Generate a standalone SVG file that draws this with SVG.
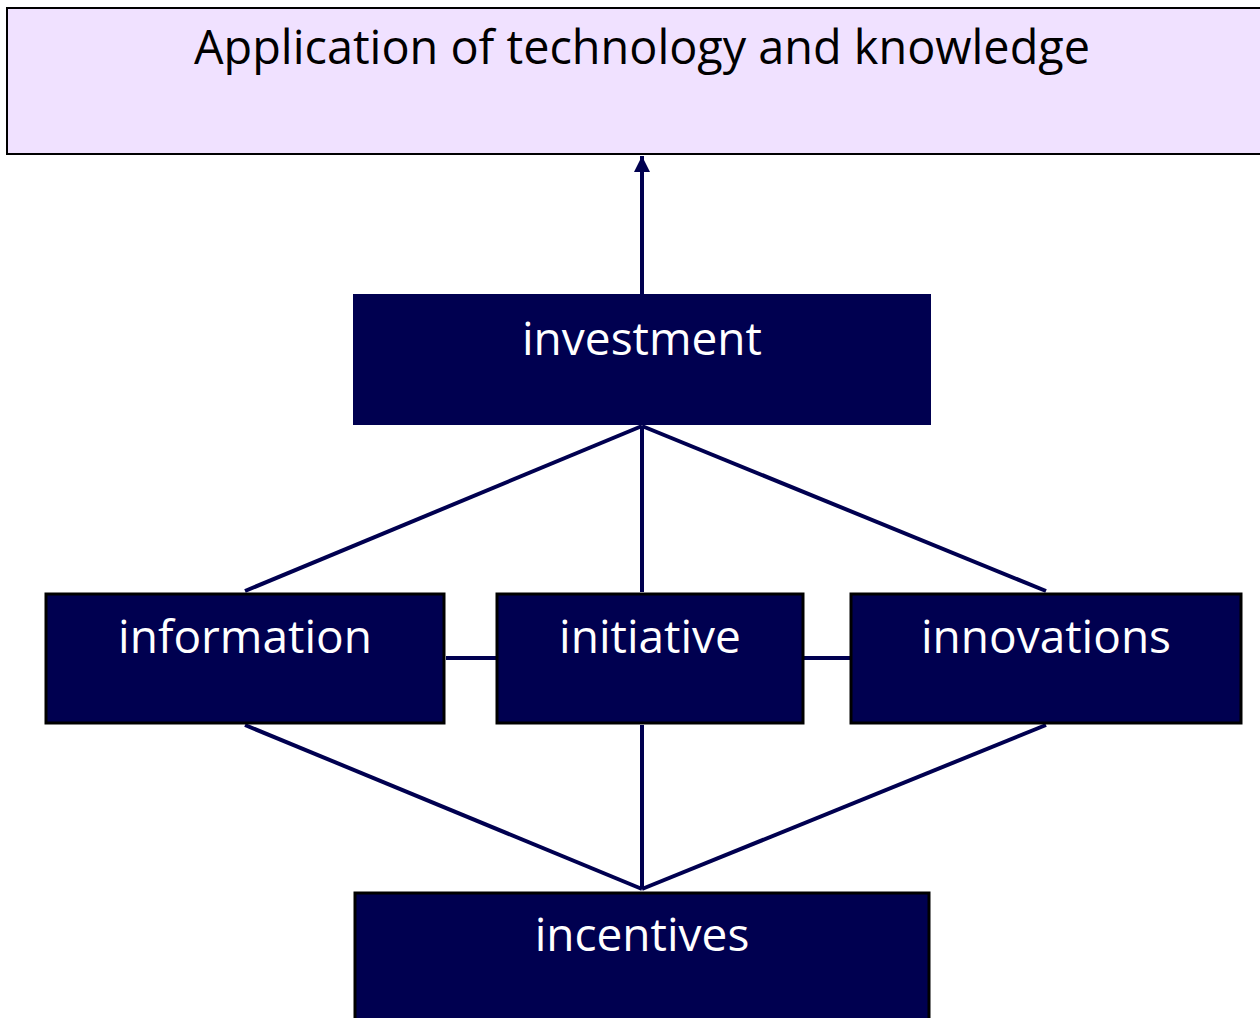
<svg xmlns="http://www.w3.org/2000/svg" width="1260" height="1018" viewBox="0 0 1260 1018">
<style>
.lbl{font-family:"Open Sans","Noto Sans",sans-serif;font-size:46px;text-anchor:middle;fill:#fff}
.head{font-family:"Open Sans","Noto Sans",sans-serif;font-size:46.8px;text-anchor:middle;fill:#000}
.box{fill:#000050;stroke:#000;stroke-width:3}
.conn{stroke:#000050;stroke-width:4;fill:none}
</style>
<defs>
<marker id="arr" viewBox="0 0 10 10" refX="10" refY="5" markerWidth="4" markerHeight="4" orient="auto" markerUnits="strokeWidth">
<path d="M0,0 L10,5 L0,10 z" fill="#000050"/>
</marker>
</defs>
<rect width="1260" height="1018" fill="#fff"/>
<g id="connectors">
<line class="conn" x1="642" y1="294" x2="642" y2="156" marker-end="url(#arr)"/>
<line class="conn" x1="642" y1="426" x2="245" y2="591"/>
<line class="conn" x1="642" y1="426" x2="642" y2="592"/>
<line class="conn" x1="642" y1="426" x2="1046" y2="591"/>
<line class="conn" x1="245" y1="725" x2="642" y2="889"/>
<line class="conn" x1="642" y1="725" x2="642" y2="889"/>
<line class="conn" x1="1046" y1="725" x2="642" y2="889"/>
<line class="conn" x1="446" y1="658" x2="496" y2="658"/>
<line class="conn" x1="804" y1="658" x2="850" y2="658"/>
</g>
<g id="application">
<rect x="7" y="8" width="1260" height="146" fill="#F0E1FF" stroke="#000" stroke-width="2"/>
<text class="head" x="642" y="64">Application of technology and knowledge</text>
</g>
<g id="investment">
<rect x="353" y="294" width="578" height="131" fill="#000050"/>
<text class="lbl" x="642" y="355">investment</text>
</g>
<g id="information">
<rect class="box" x="46" y="594" width="398" height="129"/>
<text class="lbl" x="245" y="653">information</text>
</g>
<g id="initiative">
<rect class="box" x="497" y="594" width="306" height="129"/>
<text class="lbl" x="650" y="653">initiative</text>
</g>
<g id="innovations">
<rect class="box" x="851" y="594" width="390" height="129"/>
<text class="lbl" x="1046" y="653">innovations</text>
</g>
<g id="incentives">
<rect class="box" x="355" y="893" width="574" height="140"/>
<text class="lbl" x="642" y="951">incentives</text>
</g>
</svg>
